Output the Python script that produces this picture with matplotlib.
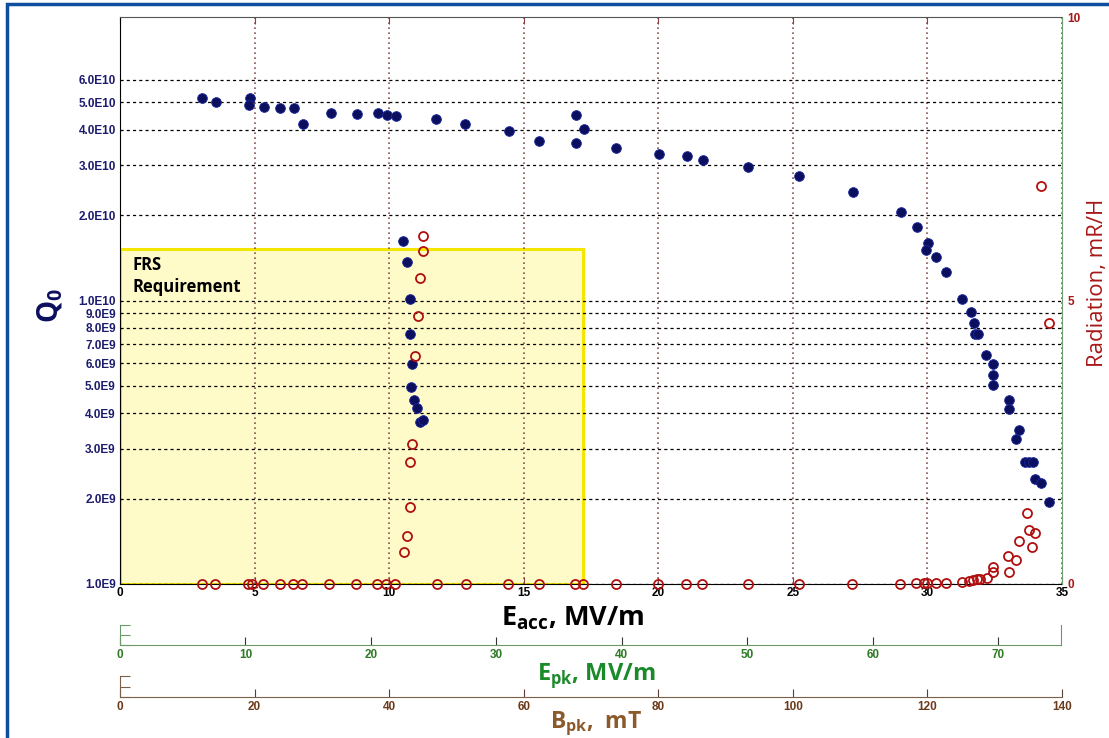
import numpy as np
import matplotlib
matplotlib.use("Agg")
import matplotlib.pyplot as plt
from matplotlib.ticker import FixedLocator, NullLocator
from matplotlib.patches import Rectangle

plt.rcParams['font.family'] = ['Liberation Sans', 'DejaVu Sans']
plt.rcParams['mathtext.fontset'] = 'custom'
plt.rcParams['mathtext.rm'] = 'Open Sans'
plt.rcParams['mathtext.bf'] = 'Open Sans:bold'

# Q0 vs Eacc (filled dots)
eacc_q = [3.06, 3.56, 4.82, 4.79, 5.35, 5.93, 6.45, 6.81, 7.83, 8.81,
          9.58, 9.93, 10.26, 11.74, 12.83, 14.46, 15.55, 16.93, 17.24, 16.93,
          18.43, 20.03, 21.06, 21.65, 23.35, 25.24, 27.23, 29.00, 29.62, 30.03,
          29.93, 30.32, 30.70, 31.30, 31.62, 31.72, 31.78, 31.88, 32.19, 32.43,
          32.43, 32.43, 33.04, 33.04, 33.42, 33.28, 33.63, 33.77, 33.91, 33.98,
          34.21, 34.50,
          10.53, 10.68, 10.78, 10.78, 10.85, 10.83, 10.94, 11.05, 11.15, 11.25]
q0 = [5.17e10, 5.0e10, 5.2e10, 4.9e10, 4.81e10, 4.78e10, 4.78e10, 4.19e10, 4.59e10, 4.53e10,
      4.57e10, 4.5e10, 4.47e10, 4.36e10, 4.19e10, 3.97e10, 3.66e10, 4.51e10, 4.04e10, 3.58e10,
      3.45e10, 3.28e10, 3.23e10, 3.12e10, 2.95e10, 2.74e10, 2.42e10, 2.05e10, 1.81e10, 1.60e10,
      1.51e10, 1.42e10, 1.26e10, 1.01e10, 9.1e9, 8.36e9, 7.63e9, 7.63e9, 6.43e9, 5.97e9,
      5.45e9, 5.02e9, 4.45e9, 4.13e9, 3.5e9, 3.25e9, 2.7e9, 2.7e9, 2.7e9, 2.35e9,
      2.27e9, 1.94e9,
      1.62e10, 1.37e10, 1.01e10, 7.63e9, 5.96e9, 4.94e9, 4.45e9, 4.18e9, 3.74e9, 3.78e9]

# radiation vs Eacc (open circles, right axis)
eacc_rad = [3.04, 3.53, 4.77, 4.89, 5.33, 5.95, 6.42, 6.75, 7.78, 8.77,
            9.54, 9.88, 10.22, 11.77, 12.86, 14.43, 15.58, 16.91, 17.22, 18.43,
            19.98, 21.03, 21.64, 23.35, 25.23, 27.20, 28.99, 29.58, 29.88, 30.00,
            30.32, 30.70, 31.28, 31.56, 31.70, 31.85, 31.95, 32.21, 32.42, 32.42,
            33.02, 33.01, 33.30, 33.41, 33.69, 33.78, 33.89, 34.01, 34.21, 34.51,
            10.54, 10.68, 10.78, 10.78, 10.84, 10.96, 11.06, 11.15, 11.27, 11.27]
rad = [0, 0, 0, 0, 0, 0, 0, 0, 0, 0,
       0, 0, 0, 0, 0, 0, 0, 0, 0, 0,
       0, 0, 0, 0, 0, 0, 0, 0.01, 0.02, 0.02,
       0.01, 0.01, 0.04, 0.05, 0.07, 0.08, 0.08, 0.1, 0.22, 0.3,
       0.22, 0.5, 0.42, 0.76, 1.25, 0.95, 0.66, 0.90, 7.02, 4.60,
       0.57, 0.85, 1.36, 2.16, 2.47, 4.02, 4.73, 5.40, 5.88, 6.13]

q_ticks = [1e9, 2e9, 3e9, 4e9, 5e9, 6e9, 7e9, 8e9, 9e9,
           1e10, 2e10, 3e10, 4e10, 5e10, 6e10]
eacc_ticks = [0, 5, 10, 15, 20, 25, 30, 35]
epk_ticks = [0, 10, 20, 30, 40, 50, 60, 70]
bpk_ticks = [0, 20, 40, 60, 80, 100, 120, 140]
rad_ticks = [0, 5, 10]

FRS_E = 17.2
FRS_Q = 1.52e10

W, H = 1109, 738
navy = '#0b0f5e'
dred = '#a81818'
green = '#2f7a25'


def fmt(v):
    e = int(np.floor(np.log10(v) + 1e-9))
    return f"{v / 10**e:.1f}E{e}"


fig = plt.figure(figsize=(W / 100, H / 100), dpi=100)
ax = fig.add_axes([120 / W, 1 - 584 / H, 942 / W, 567 / H])
ax.set_yscale('log')
ax.set_xlim(0, 35)
ax.set_ylim(1e9, 1e11)

ax.yaxis.set_major_locator(FixedLocator(q_ticks))
ax.yaxis.set_minor_locator(NullLocator())
ax.set_yticklabels([fmt(v) for v in q_ticks])
ax.set_xticks(eacc_ticks)
ax.set_xticklabels([str(v) for v in eacc_ticks])

ax.grid(axis='y', ls=(0, (2.5, 2.5)), color='black', lw=0.9)
ax.grid(axis='x', ls=(0, (1, 2)), color='#8b5050', lw=1.2)
ax.tick_params(axis='y', length=0, pad=3, labelsize=8.5, labelcolor='#1c1c6e')
ax.tick_params(axis='x', direction='in', top=True, length=5, color='#8b4040',
               labelsize=8.5, pad=2)
for t in ax.get_yticklabels() + ax.get_xticklabels():
    t.set_fontweight('bold')
ax.spines['top'].set_color('#555555')
ax.spines['right'].set_visible(False)

ax.add_patch(Rectangle((0, 1e9), FRS_E, FRS_Q - 1e9, facecolor='#fffbc9',
                       edgecolor='#f5e600', lw=2.2, zorder=0.3))
ax.text(0.45, 1.43e10, 'FRS\nRequirement', fontsize=12, fontweight='bold',
        family=['Open Sans', 'DejaVu Sans'], va='top', ha='left', linespacing=1.25)

ax.plot(eacc_q, q0, 'o', color=navy, mec='#1b2a9c', mew=0.6, ms=7, zorder=3)

ax2 = ax.twinx()
ax2.set_ylim(0, 10)
ax2.set_yticks(rad_ticks)
ax2.set_yticklabels([str(v) for v in rad_ticks])
ax2.tick_params(axis='y', length=0, pad=4, labelsize=8.5, labelcolor=dred)
for t in ax2.get_yticklabels():
    t.set_fontweight('bold')
for s in ['top', 'left', 'bottom']:
    ax2.spines[s].set_visible(False)
ax2.spines['right'].set_color('#6f9f6f')
ax2.plot(eacc_rad, rad, 'o', mfc='none', mec='#b01010', mew=1.3, ms=6.5,
         clip_on=False, zorder=4)

# secondary scales: Epk and Bpk
ax_e = fig.add_axes([120 / W, 1 - 645 / H, 941 / W, 20 / H])
ax_e.set_xlim(0, 75)
ax_e.set_ylim(0, 1)
ax_e.set_xticks(epk_ticks)
ax_e.set_xticklabels([str(v) for v in epk_ticks])
ax_e.set_yticks([0, 0.5, 1])
ax_e.set_yticklabels([])
ax_e.patch.set_visible(False)
ax_e.spines['top'].set_visible(False)
for s in ['left', 'right', 'bottom']:
    ax_e.spines[s].set_color('#6a9a6a')
ax_e.tick_params(axis='x', direction='in', length=6, color='#333333',
                 labelsize=8.5, labelcolor=green, pad=3)
ax_e.tick_params(axis='y', direction='in', length=7, color='#6a9a6a')
for t in ax_e.get_xticklabels():
    t.set_fontweight('bold')

ax_b = fig.add_axes([120 / W, 1 - 697 / H, 942 / W, 21 / H])
ax_b.set_xlim(0, 140)
ax_b.set_ylim(0, 1)
ax_b.set_xticks(bpk_ticks)
ax_b.set_xticklabels([str(v) for v in bpk_ticks])
ax_b.set_yticks([0, 0.5, 1])
ax_b.set_yticklabels([])
ax_b.patch.set_visible(False)
ax_b.spines['top'].set_visible(False)
ax_b.spines['right'].set_visible(False)
for s in ['left', 'bottom']:
    ax_b.spines[s].set_color('#7a6048')
ax_b.tick_params(axis='x', direction='in', length=6, color='#5a4030',
                 labelsize=8.5, labelcolor='#6b3a1a', pad=3)
ax_b.tick_params(axis='y', direction='in', length=7, color='#7a6048')
for t in ax_b.get_xticklabels():
    t.set_fontweight('bold')

lab_font = ['Open Sans', 'DejaVu Sans']
fig.text(573 / W, 1 - 625 / H, r'$\mathbf{E}_{\mathbf{acc}}$, MV/m', fontsize=19.5,
         fontweight='bold', family=lab_font, ha='center', va='baseline', color='black')
fig.text(596 / W, 1 - 680 / H, r'$\mathbf{E}_{\mathbf{pk}}$, MV/m', fontsize=17,
         fontweight='bold', family=lab_font, ha='center', va='baseline', color='#1a8a2a')
fig.text(596 / W, 1 - 728 / H, r'$\mathbf{B}_{\mathbf{pk}}$,  mT', fontsize=16.5,
         fontweight='bold', family=lab_font, ha='center', va='baseline', color='#8b5a2b')
fig.text(50 / W, 1 - 306 / H, r'$\mathbf{Q}_{\mathbf{0}}$', fontsize=20,
         family=lab_font, rotation=90, ha='center', va='center', color=navy)
fig.text(1097 / W, 1 - 283 / H, 'Radiation, mR/H', fontsize=16,
         family=lab_font, rotation=90, ha='center', va='center', color=dred)

# blue frame around the picture (left and top edges visible)
fig.patches.append(Rectangle((7 / W, -0.05), 1.2, 1.05 - 4 / H,
                             transform=fig.transFigure, fill=False,
                             ec='#0d4f9e', lw=2.5))

fig.savefig('out.png', dpi=100)
